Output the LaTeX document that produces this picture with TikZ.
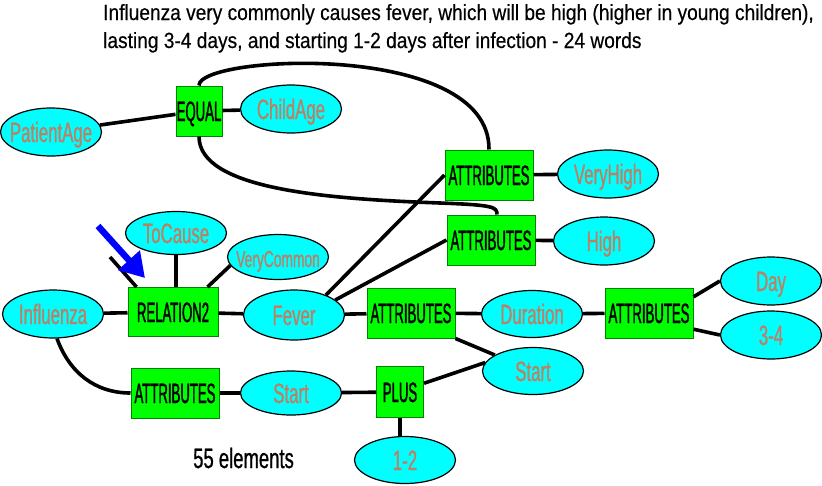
\documentclass[tikz,border=0pt]{standalone}
\usepackage{fontspec}
\setmainfont{Liberation Sans}
\newfontfamily\relfont{Liberation Sans}[FakeStretch=0.47, FakeBold=1.2]
\newfontfamily\entfont{Liberation Sans}[FakeStretch=0.6, FakeBold=0.8]
\newfontfamily\headfont{Liberation Sans}[FakeStretch=0.87, FakeBold=0.4]
\newfontfamily\notefont{Liberation Sans}[FakeStretch=0.66, FakeBold=0.8]
\usetikzlibrary{arrows.meta,shapes.geometric}
\definecolor{relgreen}{RGB}{0,255,0}
\definecolor{relborder}{RGB}{0,130,0}
\definecolor{entcyan}{RGB}{0,255,255}
\definecolor{enttext}{RGB}{188,128,100}
\definecolor{pointerblue}{RGB}{0,0,255}

\begin{document}
\begin{tikzpicture}[x=1pt, y=-1pt,
  rel/.style={rectangle, draw=relborder, line width=1pt, fill=relgreen, text=black, font=\relfont\fontsize{28}{32}\selectfont, minimum width=88pt, minimum height=50pt, inner sep=0pt, text height=20pt, text depth=0pt},
  ent/.style={ellipse, draw=black, line width=1.2pt, fill=entcyan, text=enttext, font=\entfont\fontsize{28}{32}\selectfont, minimum width=101pt, minimum height=48pt, inner xsep=-45pt, inner ysep=0pt, text height=20pt, text depth=0pt},
  headline/.style={inner sep=0pt, anchor=base west, font=\headfont\fontsize{22}{26}\selectfont},
  link/.style={line width=3.6pt},
  pointer/.style={-{Triangle[length=24pt, width=28pt]}, line width=6.5pt, draw=pointerblue}
]
  \useasboundingbox (0,0) rectangle (822,485);

  \node[headline] (title1) at (103,20) {Influenza very commonly causes fever, which will be high (higher in young children),};
  \node[headline] (title2) at (103,48) {lasting 3-4 days, and starting 1-2 days after infection - 24 words};

  \node[ent] (patient) at (51,132) {PatientAge};
  \node[rel, minimum width=46pt] (equal) at (199,111) {EQUAL};
  \node[ent] (child) at (291,109) {ChildAge};
  \node[rel] (attrA) at (489,175) {ATTRIBUTES};
  \node[ent] (veryhigh) at (608,174) {VeryHigh};
  \node[rel] (attrB) at (491,240) {ATTRIBUTES};
  \node[ent] (high) at (604,241) {High};
  \node[ent, minimum height=43pt] (tocause) at (176,233) {ToCause};
  \node[ent, minimum height=45pt, font=\entfont\fontsize{23}{26}\selectfont] (verycommon) at (278,257) {VeryCommon};
  \node[rel, minimum width=90pt, minimum height=49pt] (relation) at (173,312) {RELATION2};
  \node[ent] (influenza) at (53,314) {Influenza};
  \node[ent, minimum height=50pt] (fever) at (294,315) {Fever};
  \node[rel] (attrC) at (411,313) {ATTRIBUTES};
  \node[ent, minimum height=47pt] (duration) at (532,314) {Duration};
  \node[rel] (attrD) at (649,313) {ATTRIBUTES};
  \node[ent] (day) at (771,281) {Day};
  \node[ent] (range) at (771,335) {3-4};
  \node[ent, minimum height=47pt] (startR) at (533,371) {Start};
  \node[rel] (attrE) at (175,393) {ATTRIBUTES};
  \node[ent, minimum height=44pt] (startB) at (291,393) {Start};
  \node[rel, minimum width=47pt, minimum height=51pt] (plus) at (400,392) {PLUS};
  \node[ent, minimum height=47pt] (delay) at (405,460) {1-2};
  \node[anchor=base west, inner sep=0pt, font=\notefont\fontsize{28}{32}\selectfont] (count) at (193,468) {55 elements};

  \coordinate (cut) at (110,257);
  \coordinate (ptrtail) at (98,226);
  \coordinate (ptrhead) at (145,278);

  \draw[link] (patient) -- (equal);
  \draw[link] (equal) -- (child);
  \draw[link] (equal.north) .. controls (198,55) and (490,40) .. (attrA.north);
  \draw[link] (equal.south) .. controls (199,190) and (330,199) .. (440,203) .. controls (494,205) and (497,207) .. ([xshift=6pt]attrB.north);
  \draw[link] (attrA) -- (veryhigh);
  \draw[link] (attrB) -- (high);
  \draw[link] (fever.32) -- (attrA.west);
  \draw[link] (fever.20) -- (attrB.west);
  \draw[link] (tocause) -- (tocause |- relation.north);
  \draw[link] ([xshift=-11pt]relation.north east) -- (verycommon.190);
  \draw[link] (cut) -- ([xshift=9pt]relation.north west);
  \draw[link] (influenza) -- (relation);
  \draw[link] (relation) -- (fever);
  \draw[link] (fever) -- (attrC);
  \draw[link] (attrC) -- (duration);
  \draw[link] (attrC.south east) -- (startR);
  \draw[link] (duration) -- (attrD);
  \draw[link] (attrD.20) -- (day.west);
  \draw[link] (attrD.-20) -- (range.west);
  \draw[link] ([xshift=4pt]influenza.south) to[out=-70, in=180] (attrE.west);
  \draw[link] (attrE) -- (startB);
  \draw[link] (startB) -- (plus);
  \draw[link] (plus.20) -- (startR.170);
  \draw[link] (plus) -- (plus |- delay.north);
  \draw[pointer] (ptrtail) -- (ptrhead);
\end{tikzpicture}
\end{document}
